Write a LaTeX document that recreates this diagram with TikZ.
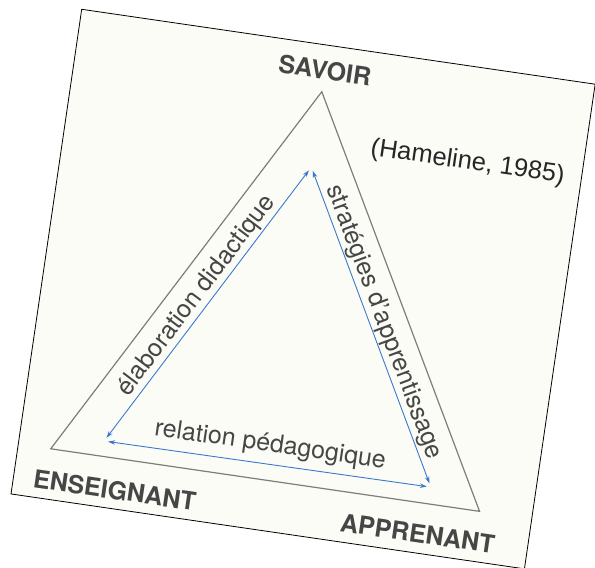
\documentclass[tikz,border=0pt]{standalone}
\usepackage{fontspec}
\setmainfont{TeX Gyre Heros}
\newfontfamily\sourcefont{Liberation Sans}
\usetikzlibrary{arrows.meta}
\definecolor{papier}{RGB}{252,252,247}
\definecolor{bleufleche}{RGB}{60,120,205}
\definecolor{grisligne}{RGB}{125,125,125}
\definecolor{gristexte}{RGB}{70,70,70}

\begin{document}
\begin{tikzpicture}[x=1pt, y=-1pt,
    sommet/.style={font=\bfseries\fontsize{25}{29}\selectfont, text=gristexte},
    etiquette/.style={font=\fontsize{25}{29}\selectfont, text=gristexte},
    lien/.style={draw=bleufleche, line width=0.9pt,
      {Stealth[length=7pt,width=4.5pt]}-{Stealth[length=7pt,width=4.5pt]},
      shorten <=4pt, shorten >=4pt}]
    \useasboundingbox (0,0) rectangle (595,568);
    \fill[white] (0,0) rectangle (595,568);
    \clip (0,0) rectangle (595,568);

    \begin{scope}[shift={(81.7,9.3)}, rotate=-8.3, transform shape]
    % Feuille scannée (légèrement tournée)
    \draw[fill=papier, line width=0.8pt] (0,0) rectangle (518.9,489.8);

    % TRIANGLE EXTÉRIEUR
    \coordinate (S) at (249.5,46.9);
    \coordinate (E) at (32.8,439.4);
    \coordinate (A) at (466.2,439.4);
    \draw[grisligne, line width=1.2pt] (S) -- (E) -- (A) -- cycle;

    % Pôles du triangle
    \node[sommet] (savoir) at (249.5,25) {SAVOIR};
    \node[sommet] (enseignant) at (102,471) {ENSEIGNANT};
    \node[sommet] (apprenant) at (408,470) {APPRENANT};
    \node[font=\sourcefont\fontsize{25.5}{30}\selectfont, text=black!85] (source) at (404,96) {(Hameline, 1985)};

    % TRIANGLE INTÉRIEUR (relations)
    \coordinate (s) at (250,123);
    \coordinate (e) at (84.5,424);
    \coordinate (a) at (414.5,422.5);
    \draw[lien] (e) -- node[etiquette, sloped, above=-2pt] (didactique) {élaboration didactique} (s);
    \draw[lien] (s) -- node[etiquette, sloped, above=-2pt] (strategies) {stratégies d'apprentissage} (a);
    \draw[lien] (e) -- node[etiquette, above=3pt] (pedagogie) {relation pédagogique} (a);
    \end{scope}
\end{tikzpicture}
\end{document}
